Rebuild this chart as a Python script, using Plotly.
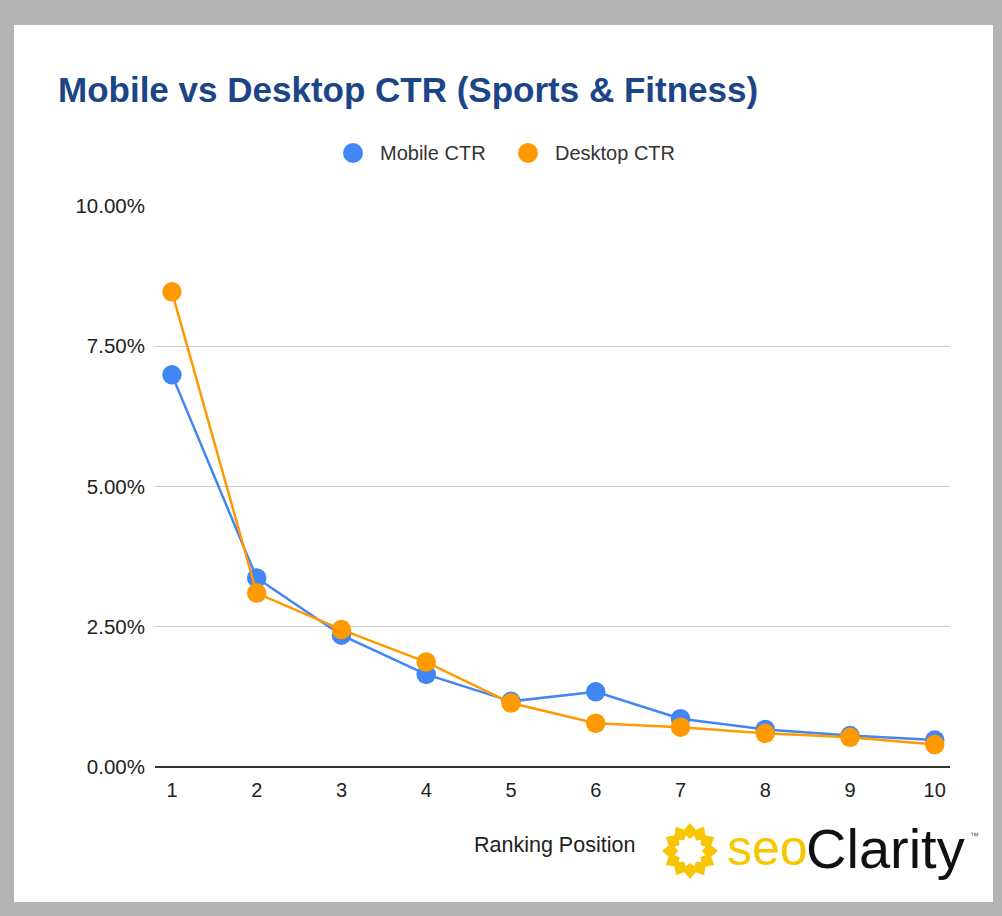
import math
import plotly.graph_objects as go

positions = [1, 2, 3, 4, 5, 6, 7, 8, 9, 10]
mobile_ctr = [6.99, 3.37, 2.35, 1.65, 1.17, 1.34, 0.86, 0.67, 0.56, 0.48]
desktop_ctr = [8.47, 3.10, 2.45, 1.87, 1.14, 0.78, 0.71, 0.60, 0.53, 0.40]
y_ticks = [0, 2.5, 5, 7.5, 10]
y_tick_labels = ["0.00%", "2.50%", "5.00%", "7.50%", "10.00%"]
series_names = ["Mobile CTR", "Desktop CTR"]
colors = ["#4285f4", "#ff9900"]

W, H = 1002, 916
L, R, T, B = 155, 52, 206, 149
PW, PH = W - L - R, H - T - B

def px(x):
    return (x - L) / PW

def py(y):
    return (H - B - y) / PH

font = "Liberation Sans, Arial, sans-serif"
logo_yellow = "#f7c600"

fig = go.Figure()
for name, vals, col in zip(series_names, [mobile_ctr, desktop_ctr], colors):
    fig.add_trace(go.Scatter(
        x=positions, y=vals, mode="lines+markers", name=name,
        line=dict(color=col, width=2.5),
        marker=dict(color=col, size=19.5),
        showlegend=False, hoverinfo="x+y",
    ))

shapes = [
    dict(type="rect", xref="paper", yref="paper", layer="below",
         x0=px(14), x1=px(993), y0=py(902), y1=py(25),
         fillcolor="white", line=dict(width=0)),
]

# logo sun ring (decorative zigzag ring)
def star_path(cx, cy, r1, r2, n, rot):
    pts = []
    for i in range(2 * n):
        r = r1 if i % 2 == 0 else r2
        a = rot + math.pi * i / n
        pts.append((px(cx + r * math.cos(a)), py(cy + r * math.sin(a))))
    return "M" + " L".join(f"{x:.5f},{y:.5f}" for x, y in pts) + " Z"

ring = star_path(690, 851, 28, 22, 12, 0.0) + " " + star_path(690, 851, 16, 12, 12, math.pi / 12)
shapes.append(dict(type="path", xref="paper", yref="paper", layer="above",
                   path=ring, fillcolor=logo_yellow, fillrule="evenodd",
                   line=dict(width=0)))

# manual legend (circle + label)
legend_pos = [(353, 378), (528, 553)]
annotations = []
for (cx, tx), name, col in zip(legend_pos, series_names, colors):
    shapes.append(dict(type="circle", xref="paper", yref="paper", layer="above",
                       x0=px(cx - 10), x1=px(cx + 10), y0=py(163), y1=py(143),
                       fillcolor=col, line=dict(width=0)))
    annotations.append(dict(text=name, xref="paper", yref="paper",
                            x=px(tx), y=py(153), xanchor="left", yanchor="middle",
                            showarrow=False,
                            font=dict(family=font, size=20, color="#333333")))

annotations += [
    dict(text="<b>Mobile vs Desktop CTR (Sports &amp; Fitness)</b>",
         xref="paper", yref="paper", x=px(56), y=py(89),
         xanchor="left", yanchor="middle", showarrow=False,
         font=dict(family=font, size=35, color="#1c4587")),
    dict(text="Ranking Position", xref="paper", yref="paper",
         x=px(554), y=py(845), xanchor="center", yanchor="middle",
         showarrow=False, font=dict(family=font, size=21.5, color="#222222")),
    dict(text="seo", xref="paper", yref="paper",
         x=px(725), y=py(848), xanchor="left", yanchor="middle",
         showarrow=False, font=dict(family=font, size=50, color=logo_yellow)),
    dict(text="Clarity", xref="paper", yref="paper",
         x=px(804), y=py(848), xanchor="left", yanchor="middle",
         showarrow=False, font=dict(family=font, size=56, color="#111111")),
    dict(text="™", xref="paper", yref="paper",
         x=px(968), y=py(836), xanchor="left", yanchor="middle",
         showarrow=False, font=dict(family=font, size=9, color="#555555")),
]

fig.update_layout(
    width=W, height=H,
    margin=dict(l=L, r=R, t=T, b=B, pad=0),
    paper_bgcolor="#b3b3b3",
    plot_bgcolor="rgba(0,0,0,0)",
    showlegend=False,
    shapes=shapes,
    annotations=annotations,
    xaxis=dict(range=[0.8, 10.18], tickvals=positions,
               showgrid=False, zeroline=False, showline=False,
               ticks="", ticklabelstandoff=9,
               tickfont=dict(family=font, size=20, color="#222222")),
    yaxis=dict(range=[0, 10], tickvals=y_ticks, ticktext=y_tick_labels,
               showgrid=True, gridcolor="#cccccc", gridwidth=1,
               zeroline=True, zerolinecolor="#333333", zerolinewidth=1.5,
               showline=False, ticks="", ticklabelstandoff=9,
               tickfont=dict(family=font, size=20.5, color="#222222")),
)

fig.write_html("out.html", config={"displayModeBar": False},
               post_script="document.body.style.margin='0';document.body.style.padding='0';")
